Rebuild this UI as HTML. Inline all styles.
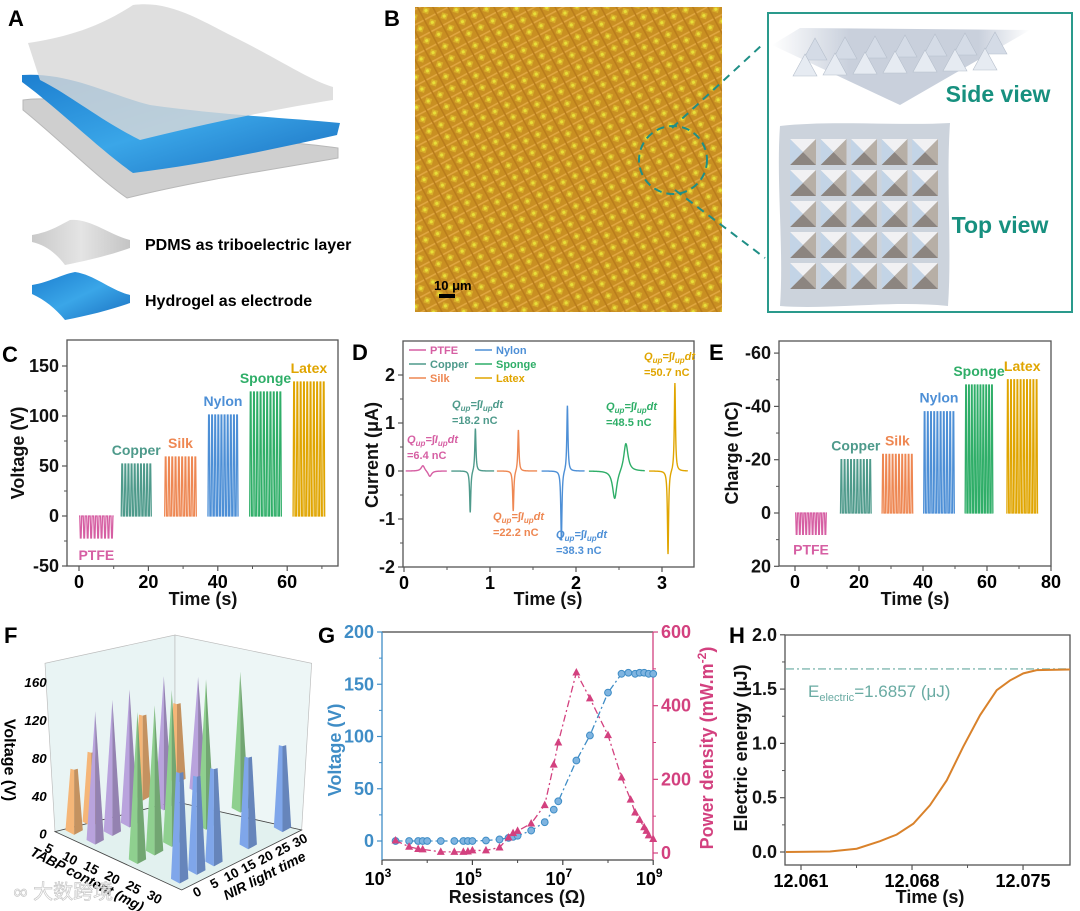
<!DOCTYPE html>
<html><head><meta charset="utf-8"><style>
html,body{margin:0;padding:0;background:#fff;}
svg{display:block;font-family:"Liberation Sans","Noto Sans CJK SC",sans-serif;}
</style></head><body>
<svg id="fig" width="1080" height="911" viewBox="0 0 1080 911" xmlns="http://www.w3.org/2000/svg">
<defs>
<pattern id="mic" width="13.5" height="13.5" patternUnits="userSpaceOnUse" patternTransform="rotate(-28)">
<rect width="13.5" height="13.5" fill="#c98f22"/>
<rect x="0" y="0" width="13.5" height="1.6" fill="#e0a640"/>
<rect x="0" y="0" width="1.6" height="13.5" fill="#b97d1c"/>
<polygon points="6.7,2.5 11,6.7 6.7,11 2.5,6.7" fill="#d9b02a"/>
<circle cx="6.7" cy="6.7" r="1.6" fill="#e8e03a"/>
</pattern>
<linearGradient id="blueg" x1="0" y1="0" x2="1" y2="1"><stop offset="0" stop-color="#1d7fd0"/><stop offset="0.5" stop-color="#3aa6e8"/><stop offset="1" stop-color="#1a6fc0"/></linearGradient>
<linearGradient id="grayg" x1="0" y1="0" x2="1" y2="0"><stop offset="0" stop-color="#c9c9c9"/><stop offset="0.5" stop-color="#e4e4e4"/><stop offset="1" stop-color="#c4c4c4"/></linearGradient>
<linearGradient id="plate" x1="0" y1="0" x2="1" y2="0"><stop offset="0" stop-color="#fff"/><stop offset="0.3" stop-color="#c9d0dc"/><stop offset="0.8" stop-color="#c9d0dc"/><stop offset="1" stop-color="#fff"/></linearGradient>
</defs>

<!-- Panel A -->
<g>
<text x="8" y="26" font-size="22" font-weight="bold">A</text>
<path d="M23,100 C60,95 90,108 130,120 C200,140 270,138 338,148 L338,158 C270,170 200,180 127,198 C100,180 60,140 23,110 Z" fill="#cfcfcf" stroke="#b8b8b8"/>
<path d="M22,75 C70,72 110,95 150,105 C220,115 290,118 340,123 L337,135 C270,150 200,165 133,173 C100,150 60,110 22,82 Z" fill="url(#blueg)"/>
<path d="M28,43 C60,38 95,30 133,5 C170,0 200,20 240,40 C280,60 310,80 333,87 L333,100 C270,110 200,125 140,140 C100,120 70,95 40,80 Z" fill="#d8d8d8" opacity="0.82"/>
<path d="M32,235 C50,232 60,225 70,220 C90,218 110,235 130,240 L130,248 C110,255 90,260 65,265 C55,252 45,245 32,242 Z" fill="url(#grayg)"/>
<path d="M32,285 C50,282 60,275 75,272 C95,275 110,290 130,295 L130,303 C110,310 90,315 65,320 C55,308 45,300 32,294 Z" fill="url(#blueg)"/>
<text x="145" y="250" font-size="16" font-weight="bold">PDMS as triboelectric layer</text>
<text x="145" y="306" font-size="16" font-weight="bold">Hydrogel as electrode</text>
</g>

<!-- Panel B -->
<g>
<text x="384" y="26" font-size="22" font-weight="bold">B</text>
<rect x="415" y="7" width="307" height="305" fill="url(#mic)"/>
<rect x="439" y="294" width="16" height="4" fill="#000"/>
<text x="434" y="290" font-size="13" font-weight="bold">10 μm</text>
<circle cx="673" cy="160" r="34" fill="none" stroke="#1f8f86" stroke-width="2" stroke-dasharray="8,5"/>
<line x1="672" y1="128" x2="762" y2="45" stroke="#1f8f86" stroke-width="2" stroke-dasharray="8,6"/>
<line x1="675" y1="190" x2="765" y2="258" stroke="#1f8f86" stroke-width="2" stroke-dasharray="8,6"/>
<rect x="768" y="13" width="304" height="299" fill="#fff" stroke="#2a9a8c" stroke-width="2"/>
<polygon points="772,45 800,28 1030,30 900,105" fill="url(#plate)"/>
<g id="sidePyr"></g>
<text x="998" y="102" font-size="23" font-weight="bold" fill="#17907f" text-anchor="middle">Side view</text>
<path d="M780,126 C830,120 900,126 950,123 C946,180 952,250 948,306 C890,300 830,310 780,306 C784,250 776,180 780,126 Z" fill="#ccd3dc"/>
<g id="topGrid"></g>
<text x="1000" y="233" font-size="23" font-weight="bold" fill="#17907f" text-anchor="middle">Top view</text>
</g>

<!-- Panel letters for charts -->
<text x="2" y="362" font-size="22" font-weight="bold">C</text>
<text x="352" y="360" font-size="22" font-weight="bold">D</text>
<text x="709" y="360" font-size="22" font-weight="bold">E</text>
<text x="4" y="643" font-size="22" font-weight="bold">F</text>
<text x="318" y="643" font-size="22" font-weight="bold">G</text>
<text x="729" y="643" font-size="22" font-weight="bold">H</text>

<g id="F" transform="translate(0,600) scale(0.3333)"></g>
<g id="C"></g>
<g id="D"></g>
<g id="E"></g>
<g id="G"></g>
<g id="H"></g>
</svg>
<script>
// ===== Data =====
const materials = ['PTFE','Copper','Silk','Nylon','Sponge','Latex'];
const matColors = ['#d65fa3','#4e9a8b','#ee8752','#4d8fd6','#2fae68','#e0a500'];
// C: voltage
const cStart = [0,12,24.5,37,49,61.5];
const cEnd = [10,21,34,46,58.5,71];
const cPeak = [-22,52,59,101,124,134];
const cXTicks = [0,20,40,60];
const cYTicks = [-50,0,50,100,150];
// D: current
const dStart = [0.02,0.55,1.08,1.6,2.15,2.85];
const dEnd = [0.5,1.05,1.55,2.1,2.8,3.3];
const dNegT = [0.3,0.77,1.27,1.83,2.45,3.07];
const dNeg = [-0.12,-0.88,-0.85,-1.45,-0.6,-1.75];
const dPosT = [0.22,0.83,1.33,1.9,2.58,3.15];
const dPos = [0.12,0.9,0.87,1.38,0.6,1.85];
const dWidth = [0.025,0.008,0.008,0.008,0.03,0.008];
const dCharge = ['6.4','18.2','22.2','38.3','48.5','50.7'];
const dXTicks = [0,1,2,3];
const dYTicks = [-2,-1,0,1,2];
// E: charge
const eStart = [0,14,27,40,53,66];
const eEnd = [10,24,37,50,62,76];
const ePeak = [8,-20,-22,-38,-48,-50];
const eXTicks = [0,20,40,60,80];
const eYTicks = [-60,-40,-20,0,20];
// F: 3D
const fTabp = [5,10,20,30];
const fColors = ['#f5b678','#b9a3dd','#8fd08f','#7fa6ea'];
const fNir = [[0,5,20,30],[0,5,10,20,30],[0,5,10,20,30],[0,5,10,20,30]];
const fVolt = [[67,76,88,82],[138,141,143,139,120],[158,156,163,156,146],[115,102,101,95,89]];
const fZTicks = [0,40,80,120,160];
const fATicks = [5,10,15,20,25,30];
const fBTicks = [0,5,10,15,20,25,30];
// G
const gLogR = [3.3,3.6,3.8,3.9,4,4.3,4.6,4.8,4.9,5,5.3,5.6,5.8,5.9,6,6.3,6.6,6.8,6.9,7.3,7.6,8,8.3,8.45,8.6,8.7,8.8,8.9,9];
const gVolt = [0,0,0,0,0,0,0,0,0,0,0.5,1.5,3,4,5,10,18,30,38,77,101,142,160,161,160,161,161,160,160];
const gPowLogR = [3.3,3.6,3.8,3.9,4.3,4.6,4.8,4.9,5,5.3,5.6,5.8,5.9,6,6.3,6.6,6.8,6.9,7.3,7.6,8,8.3,8.5,8.6,8.7,8.8,8.85,8.9,9];
const gPow = [34,17,11,10,3,3,3,4,7,7,15,42,54,60,80,130,240,300,490,420,320,205,145,110,90,70,60,48,38];
const gXTicks = [3,5,7,9];
const gVTicks = [0,50,100,150,200];
const gPTicks = [0,200,400,600];
// H
const hTimeMs = [-1.0,1.83,3.51,4.98,6.03,7.08,8.13,9.19,10.23,11.29,12.34,13.18,14.02,14.86,16.96];
const hEnergy = [0,0.005,0.03,0.10,0.16,0.26,0.43,0.66,0.97,1.26,1.49,1.58,1.645,1.675,1.68];
const hEelec = 1.6857;
const hXTicks = [0,7,14];
const hXLabels = ['12.061','12.068','12.075'];
const hYTicks = [0,0.5,1.0,1.5,2.0];

// ===== Helpers =====
const NS='http://www.w3.org/2000/svg';
function mk(tag, attrs, parent){const e=document.createElementNS(NS,tag);for(const k in attrs)e.setAttribute(k,attrs[k]);parent.appendChild(e);return e;}
function tx(parent,x,y,s,attrs){const e=mk('text',Object.assign({x:x,y:y},attrs||{}),parent);e.textContent=s;return e;}

function frame(g, l, r, t, b, name){
  const e=mk('rect',{x:l,y:t,width:r-l,height:b-t,fill:'none',stroke:'#555','stroke-width':1.3},g);
  
  
}
function xTicks(g, vals, labels, xf, yb, minorVals, fs, name){
  vals.forEach((v,i)=>{
    const ln=mk('line',{x1:xf(v),x2:xf(v),y1:yb,y2:yb+5,stroke:'#555','stroke-width':1.2},g);
    
    
    const t=tx(g,xf(v),yb+22,labels[i],{'font-size':fs,'font-weight':'bold','text-anchor':'middle'});
    
    
  });
  (minorVals||[]).forEach(v=>{
    const ln=mk('line',{x1:xf(v),x2:xf(v),y1:yb,y2:yb+3,stroke:'#555','stroke-width':1},g);
    
    
  });
}
function yTicks(g, vals, labels, yf, xl, minorVals, fs, name, color, side){
  const dir = side==='right'?1:-1;
  vals.forEach((v,i)=>{
    const ln=mk('line',{x1:xl,x2:xl+dir*5,y1:yf(v),y2:yf(v),stroke:color||'#555','stroke-width':1.2},g);
    
    
    const t=tx(g,xl+dir*8,yf(v)+6,labels[i],{'font-size':fs,'font-weight':'bold','text-anchor':side==='right'?'start':'end',fill:color||'#111'});
    
    
  });
  (minorVals||[]).forEach(v=>{
    const ln=mk('line',{x1:xl,x2:xl+dir*3,y1:yf(v),y2:yf(v),stroke:color||'#555','stroke-width':1},g);
    
    
  });
}
function title(g,x,y,s,rot,fs,color,name){
  const t=tx(g,x,y,s,{'font-size':fs,'font-weight':'bold','text-anchor':'middle',fill:color||'#111',transform:rot?`rotate(${rot} ${x} ${y})`:''});
  
  
  return t;
}
function mids(a){const r=[];for(let i=0;i<a.length-1;i++)r.push((a[i]+a[i+1])/2);return r;}
function spikes(g,xf,yf,t0,t1,n,peak,color,name){
  let d=`M${xf(t0)},${yf(0)}`;
  for(let i=0;i<n;i++){
    const ti=t0+(i+0.5)*(t1-t0)/n;
    d+=` L${xf(ti-0.28)},${yf(0)} L${xf(ti-0.1)},${yf(peak)} L${xf(ti+0.1)},${yf(peak)} L${xf(ti+0.28)},${yf(0)}`;
  }
  d+=` L${xf(t1)},${yf(0)}`;
  const p=mk('path',{d:d,fill:'none',stroke:color,'stroke-width':1.3},g);
  
  
}

// ===== Panel C =====
(function(){
  const g=document.getElementById('C');
  const xC=t=>79+t*3.47, yC=v=>516-v*1.0;
  frame(g,67,338,340,566,'panel-c-plot-area');
  xTicks(g,cXTicks,cXTicks.map(String),xC,566,mids(cXTicks).concat([70]),18,'c-x-axis');
  yTicks(g,cYTicks,cYTicks.map(String),yC,67,mids(cYTicks),18,'c-y-axis');
  title(g,203,605,'Time (s)',0,18,null,'c-x-axis-title');
  title(g,24,453,'Voltage (V)',-90,18,null,'c-y-axis-title');
  materials.forEach((m,i)=>{
    spikes(g,xC,yC,cStart[i],cEnd[i],10,cPeak[i],matColors[i],'c-series-'+m.toLowerCase());
    const cx=xC((cStart[i]+cEnd[i])/2);
    const ly = cPeak[i]<0 ? yC(cPeak[i])+22 : yC(cPeak[i])-9;
    const t=tx(g,cx,ly,m,{'font-size':14,'font-weight':'bold','text-anchor':'middle',fill:matColors[i]});
    
    
  });
})();

// ===== Panel E =====
(function(){
  const g=document.getElementById('E');
  const xE=t=>795+t*3.2, yE=q=>513+q*2.665;
  frame(g,779,1051,341,566,'panel-e-plot-area');
  xTicks(g,eXTicks,eXTicks.map(String),xE,566,mids(eXTicks),18,'e-x-axis');
  yTicks(g,eYTicks,eYTicks.map(String),yE,779,mids(eYTicks),18,'e-y-axis');
  title(g,915,605,'Time (s)',0,18,null,'e-x-axis-title');
  title(g,738,453,'Charge (nC)',-90,18,null,'e-y-axis-title');
  materials.forEach((m,i)=>{
    spikes(g,xE,yE,eStart[i],eEnd[i],10,ePeak[i],matColors[i],'e-series-'+m.toLowerCase());
    const cx=xE((eStart[i]+eEnd[i])/2);
    const ly = ePeak[i]>0 ? yE(ePeak[i])+20 : yE(ePeak[i])-9;
    const t=tx(g,cx,ly,m,{'font-size':14,'font-weight':'bold','text-anchor':'middle',fill:matColors[i]});
    
    
  });
})();

// ===== Panel D =====
(function(){
  const g=document.getElementById('D');
  const xD=t=>404+t*86, yD=i=>471-i*48;
  frame(g,403,694,341,567,'panel-d-plot-area');
  xTicks(g,dXTicks,dXTicks.map(String),xD,567,mids(dXTicks),18,'d-x-axis');
  yTicks(g,dYTicks,dYTicks.map(String),yD,403,mids(dYTicks),18,'d-y-axis');
  title(g,548,605,'Time (s)',0,18,null,'d-x-axis-title');
  title(g,378,455,'Current (μA)',-90,18,null,'d-y-axis-title');
  const annX=[407,452,493,556,606,644], annY=[443,408,520,538,410,360];
  materials.forEach((m,i)=>{
    let d='';
    for(let t=dStart[i];t<=dEnd[i];t+=0.002){
      const w=dWidth[i];
      const v=dNeg[i]/(1+Math.pow((t-dNegT[i])/w,2))+dPos[i]/(1+Math.pow((t-dPosT[i])/w,2));
      d+=(d?' L':'M')+xD(t).toFixed(2)+','+yD(v).toFixed(2);
    }
    const p=mk('path',{d:d,fill:'none',stroke:matColors[i],'stroke-width':1.4},g);
    
    
    const a=tx(g,annX[i],annY[i],'',{'font-size':11,'font-weight':'bold','font-style':'italic',fill:matColors[i]});
    
    
    a.innerHTML='Q<tspan font-size="8" dy="3">up</tspan><tspan dy="-3">=∫I</tspan><tspan font-size="8" dy="3">up</tspan><tspan dy="-3">dt</tspan>';
    const b=tx(g,annX[i],annY[i]+16,'='+dCharge[i]+' nC',{'font-size':11,'font-weight':'bold',fill:matColors[i]});
    
    
  });
  materials.forEach((m,i)=>{
    const col=Math.floor(i/3), row=i%3;
    const lx=[409,475][col], ly=350+row*14;
    const ln=mk('line',{x1:lx,x2:lx+17,y1:ly,y2:ly,stroke:matColors[i],'stroke-width':1.5},g);
    
    
    const t=tx(g,lx+21,ly+4,m,{'font-size':11,'font-weight':'bold',fill:matColors[i]});
    
    
  });
})();

// ===== Panel G =====
(function(){
  const g=document.getElementById('G');
  const xG=l=>382+(l-3)*45.2, yV=v=>841-v*1.045, yP=p=>853-p*0.3683;
  const blue='#3f8dc6', pink='#d3417f';
  const top=mk('line',{x1:382,x2:653,y1:632,y2:632,stroke:'#444','stroke-width':1.3},g);
  
  
  const bot=mk('line',{x1:382,x2:653,y1:860,y2:860,stroke:'#444','stroke-width':1.3},g);
  
  
  const la=mk('line',{x1:382,x2:382,y1:632,y2:860,stroke:blue,'stroke-width':1.3},g);
  
  
  const ra=mk('line',{x1:653,x2:653,y1:632,y2:860,stroke:pink,'stroke-width':1.3},g);
  
  
  gXTicks.forEach(v=>{
    const ln=mk('line',{x1:xG(v),x2:xG(v),y1:860,y2:865,stroke:'#444','stroke-width':1.2},g);
    
    
    const t=tx(g,xG(v)-4,885,'',{'font-size':18,'font-weight':'bold','text-anchor':'middle'});
    
    
    t.innerHTML='10<tspan font-size="12" dy="-8">'+v+'</tspan>';
  });
  [4,6,8].forEach(v=>{
    const ln=mk('line',{x1:xG(v),x2:xG(v),y1:860,y2:863,stroke:'#444'},g);
    
    
  });
  yTicks(g,gVTicks,gVTicks.map(String),yV,382,mids(gVTicks),18,'g-voltage-axis',blue,'left');
  yTicks(g,gPTicks,gPTicks.map(String),yP,653,mids(gPTicks),18,'g-power-axis',pink,'right');
  title(g,517,903,'Resistances (Ω)',0,18,null,'g-x-axis-title');
  title(g,341,750,'Voltage (V)',-90,18,blue,'g-voltage-axis-title');
  const pt=title(g,713,748,'',-90,18,pink,'g-power-axis-title');
  pt.innerHTML='Power density (mW.m<tspan font-size="12" dy="-7">-2</tspan><tspan dy="7">)</tspan>';
  let dv='';gLogR.forEach((l,i)=>{dv+=(i?' L':'M')+xG(l)+','+yV(gVolt[i]);});
  const lv=mk('path',{d:dv,fill:'none',stroke:blue,'stroke-width':1.3,'stroke-dasharray':'7,3,2,3'},g);
  
  
  let dp='';gPowLogR.forEach((l,i)=>{dp+=(i?' L':'M')+xG(l)+','+yP(gPow[i]);});
  const lp=mk('path',{d:dp,fill:'none',stroke:pink,'stroke-width':1.3,'stroke-dasharray':'7,3,2,3'},g);
  
  
  gLogR.forEach((l,i)=>{
    const c=mk('circle',{cx:xG(l),cy:yV(gVolt[i]),r:3.4,fill:'#7fb4e0',stroke:blue,'stroke-width':1},g);
    
    
  });
  gPowLogR.forEach((l,i)=>{
    const x=xG(l), y=yP(gPow[i]);
    const p=mk('polygon',{points:`${x},${y-4.5} ${x-4},${y+3} ${x+4},${y+3}`,fill:pink},g);
    
    
  });
})();

// ===== Panel H =====
(function(){
  const g=document.getElementById('H');
  const xH=ms=>801+ms*15.86, yH=e=>852-e*108.6;
  frame(g,785,1070,635,865,'panel-h-plot-area');
  xTicks(g,hXTicks,hXLabels,xH,865,[3.5,10.5],18,'h-x-axis');
  yTicks(g,hYTicks,hYTicks.map(v=>v.toFixed(1)),yH,785,[0.25,0.75,1.25,1.75],18,'h-y-axis');
  title(g,930,903,'Time (s)',0,18,null,'h-x-axis-title');
  title(g,747,748,'Electric energy (μJ)',-90,18,null,'h-y-axis-title');
  const ref=mk('line',{x1:786,x2:1069,y1:yH(hEelec),y2:yH(hEelec),stroke:'#80b8b0','stroke-width':1.3,'stroke-dasharray':'8,3,2,3'},g);
  
  
  const lab=tx(g,808,697,'',{'font-size':17,fill:'#6aaba3'});
  
  
  lab.innerHTML='E<tspan font-size="11" dy="4">electric</tspan><tspan dy="-4">='+hEelec+' (μJ)</tspan>';
  let d='';hTimeMs.forEach((t,i)=>{d+=(i?' L':'M')+Math.max(786,xH(t))+','+yH(hEnergy[i]);});
  const c=mk('path',{d:d,fill:'none',stroke:'#d9822b','stroke-width':2},g);
  
  
})();

// ===== Panel F (3D, coords in 3x zoom space) =====
(function(){
  const g=document.getElementById('F');
  const L=[165,695], F=[545,870], R=[905,690], B=[525,605];
  const P=(a,b)=>{const u=(a-2.5)/30, w=(b+2.5)/35;return [L[0]+u*(F[0]-L[0])+w*(R[0]-F[0]), L[1]+u*(F[1]-L[1])+w*(R[1]-F[1])];};
  const zs=2.84;
  const lw=mk('polygon',{points:'165,695 135,190 525,105 525,605',fill:'#e9f4f4',stroke:'#bbb','stroke-width':2},g);
  
  
  const rw=mk('polygon',{points:'525,605 525,105 935,190 905,690',fill:'#edf6f6',stroke:'#bbb','stroke-width':2},g);
  
  
  const fl=mk('polygon',{points:'165,695 525,605 905,690 545,870',fill:'#e2f1ef',stroke:'#444','stroke-width':2.5},g);
  
  
  const bars=[];
  fTabp.forEach((a,s)=>fNir[s].forEach((b,j)=>bars.push({a:a,b:b,v:fVolt[s][j],s:s})));
  bars.sort((p,q)=>P(p.a,p.b)[1]-P(q.a,q.b)[1]);
  bars.forEach(o=>{
    const [x,y]=P(o.a,o.b);
    const top=y-o.v*zs;
    const tw = (o.s===0||o.s===3)?11:0;
    const col=fColors[o.s];
    const f1=mk('polygon',{points:`${x-26},${y-6} ${x},${y+8} ${x},${top+3} ${x-tw},${top}`,fill:col},g);
    
    
    const f2=mk('polygon',{points:`${x},${y+8} ${x+26},${y-6} ${x+tw},${top} ${x},${top+3}`,fill:col,opacity:1,style:'filter:brightness(0.8)'},g);
    
    
  });
  fZTicks.forEach(v=>{
    const t=tx(g,140,716-v*zs,String(v),{'font-size':40,'font-weight':'bold','text-anchor':'end','font-style':'italic'});
    
    
  });
  fATicks.forEach(a=>{
    const [x,y]=P(a,-6);
    const t=tx(g,x-20,y+30,String(a),{'font-size':40,'font-weight':'bold','text-anchor':'middle',transform:`rotate(28 ${x-20} ${y+30})`});
    
    
  });
  fBTicks.forEach(b=>{
    const [x,y]=P(34,b);
    const t=tx(g,x+8,y+22,String(b),{'font-size':40,'font-weight':'bold','text-anchor':'middle',transform:`rotate(-28 ${x+8} ${y+22})`});
    
    
  });
  const zt=tx(g,14,480,'Voltage (V)',{'font-size':48,'font-weight':'bold','text-anchor':'middle',transform:'rotate(90 14 480)'});
  
  
  const at=tx(g,255,850,'TABP content (mg)',{'font-size':42,'font-weight':'bold','font-style':'italic','text-anchor':'middle',transform:'rotate(27 255 850)'});
  
  
  const bt=tx(g,800,840,'NIR light time',{'font-size':42,'font-weight':'bold','font-style':'italic','text-anchor':'middle',transform:'rotate(-27 800 840)'});
  
  
  const wm=tx(g,40,895,'∞ 大数跨境',{'font-size':60,fill:'#ffffff',opacity:0.85,stroke:'#bbb','stroke-width':2});
  
  
})();

// ===== B inset decorations =====
(function(){
  const tg=document.getElementById('topGrid');
  for(let r=0;r<5;r++)for(let c=0;c<5;c++){
    const x=790+c*30.5, y=139+r*31, s=26, cx=x+s/2, cy=y+s/2;
    const faces=[[`${x},${y} ${x+s},${y} ${cx},${cy}`,'#f1f1f3'],[`${x+s},${y} ${x+s},${y+s} ${cx},${cy}`,'#b7afa6'],[`${x},${y+s} ${x+s},${y+s} ${cx},${cy}`,'#8c8580'],[`${x},${y} ${x},${y+s} ${cx},${cy}`,'#c3d4e6']];
    faces.forEach(f=>{
      const p=mk('polygon',{points:f[0],fill:f[1]},tg);
      
      
    });
  }
  const sg=document.getElementById('sidePyr');
  for(let r=0;r<2;r++)for(let c=0;c<7;c++){
    const x=815+c*30+r*-10, y=52+r*16-c*1;
    const p=mk('polygon',{points:`${x-12},${y+8} ${x},${y-14} ${x+12},${y+8}`,fill:r?'#e6ebf2':'#d4dbe6',stroke:'#b6bfcc','stroke-width':0.6},sg);
    
    
  }
})();
</script>
</body></html>
